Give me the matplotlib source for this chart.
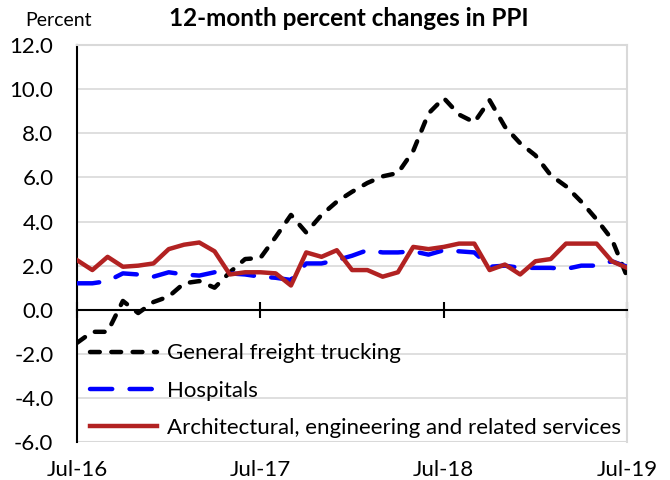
import numpy as np
import matplotlib
matplotlib.use("Agg")
import matplotlib.pyplot as plt

plt.rcParams['font.family'] = ['Lato', 'DejaVu Sans']

# 12-month percent changes, monthly from Jul-16 to Jul-19
trucking = [-1.5, -1.0, -1.0, 0.4, -0.15, 0.35, 0.6, 1.2, 1.3, 1.0, 1.7, 2.3,
            2.35, 3.3, 4.3, 3.5, 4.3, 4.9, 5.35, 5.75, 6.05, 6.2, 7.2, 8.9,
            9.6, 8.85, 8.5, 9.5, 8.3, 7.55, 7.0, 6.1, 5.6, 4.9, 4.1, 3.2, 1.5]
hospitals = [1.2, 1.2, 1.3, 1.65, 1.6, 1.5, 1.7, 1.6, 1.55, 1.7, 1.65, 1.6,
             1.5, 1.45, 1.35, 2.1, 2.1, 2.25, 2.45, 2.7, 2.6, 2.6, 2.65, 2.5,
             2.7, 2.65, 2.6, 1.95, 2.0, 1.9, 1.9, 1.9, 1.85, 2.0, 2.0, 2.2, 1.95]
architectural = [2.25, 1.8, 2.4, 1.95, 2.0, 2.1, 2.75, 2.95, 3.05, 2.65, 1.6, 1.7,
                 1.7, 1.65, 1.1, 2.6, 2.4, 2.7, 1.8, 1.8, 1.5, 1.7, 2.85, 2.75,
                 2.85, 3.0, 3.0, 1.8, 2.05, 1.6, 2.2, 2.3, 3.0, 3.0, 3.0, 2.2, 1.9]
tick_labels = ['Jul-16', 'Jul-17', 'Jul-18', 'Jul-19']
tick_months = [0, 12, 24, 36]

months = np.arange(len(trucking))

fig = plt.figure(figsize=(6.7, 4.8), dpi=100)
ax = fig.add_axes([0.115, 0.079, 0.821, 0.827])

# x axis drawn through zero, set before tick styling (set_position resets ticks)
ax.spines['bottom'].set_position(('data', 0))
ax.spines['bottom'].set_linewidth(1.5)

ax.plot(months, trucking, color='black', lw=3.2, dashes=(2.2, 2.6),
        dash_capstyle='round', label='General freight trucking', zorder=3)
ax.plot(months, hospitals, color='#0000ff', lw=3.2, dashes=(5.0, 3.9),
        dash_capstyle='round', label='Hospitals', zorder=3)
ax.plot(months, architectural, color='#b22222', lw=3.2,
        label='Architectural, engineering and related services', zorder=4)

ax.set_xlim(0, 36)
ax.set_ylim(-6, 12)
yt = np.arange(-6, 12.1, 2)
ax.set_yticks(yt)
ax.set_yticklabels([f'{v:.1f}' for v in yt])
ax.yaxis.grid(True, color='#d9d9d9', lw=1.2)
ax.set_axisbelow(True)
ax.tick_params(axis='y', length=0, pad=17, labelsize=16)

ax.set_xticks(tick_months)
ax.set_xticklabels(tick_labels)
ax.tick_params(axis='x', direction='inout', length=11, width=1.5, pad=103,
               labelsize=16)
ax.axhline(-6, color='#d9d9d9', lw=1.5, zorder=1)

ax.spines['left'].set_linewidth(1.5)
for side in ['top', 'right']:
    ax.spines[side].set_color('#d9d9d9')
    ax.spines[side].set_linewidth(1.5)

ax.legend(loc='lower left', bbox_to_anchor=(-0.005, -0.028), frameon=False,
          fontsize=16, handlelength=3.0, handletextpad=0.45, labelspacing=0.77,
          borderaxespad=0.3)

fig.text(0.521, 0.962, '12-month percent changes in PPI', ha='center', va='center',
         fontsize=17.5, fontweight='bold')
fig.text(0.087, 0.958, 'Percent', ha='center', va='center', fontsize=14)

fig.savefig('out.png', dpi=100)
